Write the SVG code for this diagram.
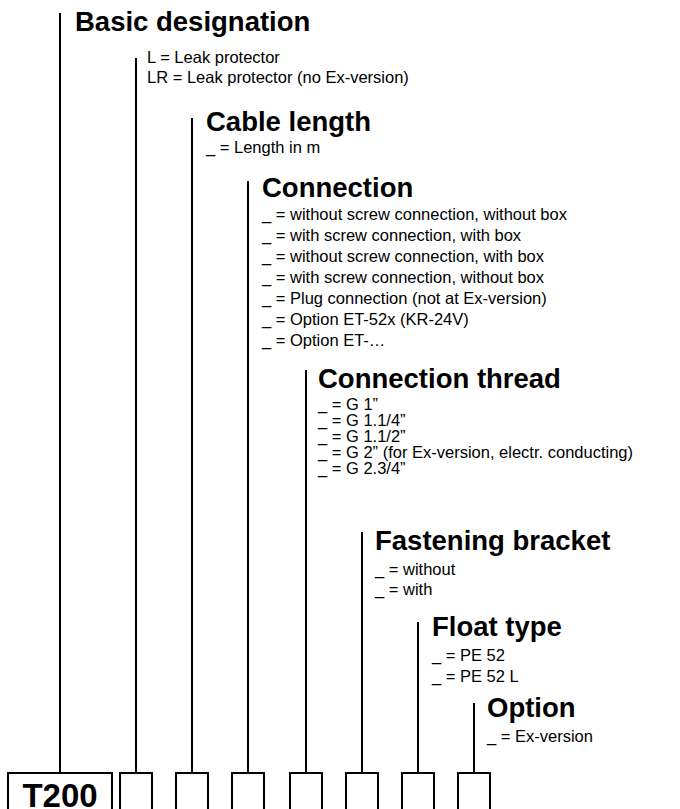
<svg xmlns="http://www.w3.org/2000/svg" width="680" height="809" viewBox="0 0 680 809">
<style>
.h{font-family:"Liberation Sans",Arial,sans-serif;font-weight:bold;font-size:27.5px;fill:#000}
.t{font-family:"Liberation Sans",Arial,sans-serif;font-size:16.5px;fill:#000}
.big{font-family:"Liberation Sans",Arial,sans-serif;font-weight:bold;font-size:33px;fill:#000}
.ln{stroke:#000;stroke-width:2;fill:none}
.bx{stroke:#000;stroke-width:2;fill:#fff}
</style>
<rect width="680" height="809" fill="#fff"/>
<g id="connectors">
<line class="ln" x1="60" y1="13" x2="60" y2="773"/>
<line class="ln" x1="136" y1="58" x2="136" y2="773"/>
<line class="ln" x1="192" y1="118" x2="192" y2="773"/>
<line class="ln" x1="248" y1="181" x2="248" y2="773"/>
<line class="ln" x1="306" y1="370" x2="306" y2="773"/>
<line class="ln" x1="362" y1="532" x2="362" y2="773"/>
<line class="ln" x1="418" y1="622" x2="418" y2="773"/>
<line class="ln" x1="474" y1="703" x2="474" y2="773"/>
</g>
<g id="basic">
<text class="h" x="75" y="31">Basic designation</text>
<rect class="bx" x="8" y="773" width="104" height="50"/>
<text class="big" x="60" y="807" text-anchor="middle">T200</text>
</g>
<g id="type">
<text class="t" x="147" y="63">L = Leak protector</text>
<text class="t" x="147" y="83">LR = Leak protector (no Ex-version)</text>
<rect class="bx" x="120" y="773" width="32" height="50"/>
</g>
<g id="cable">
<text class="h" x="206" y="131">Cable length</text>
<text class="t" x="206" y="153">_ = Length in m</text>
<rect class="bx" x="176" y="773" width="32" height="50"/>
</g>
<g id="connection">
<text class="h" x="262" y="197">Connection</text>
<text class="t" x="262" y="220">_ = without screw connection, without box</text>
<text class="t" x="262" y="241">_ = with screw connection, with box</text>
<text class="t" x="262" y="262">_ = without screw connection, with box</text>
<text class="t" x="262" y="283">_ = with screw connection, without box</text>
<text class="t" x="262" y="304">_ = Plug connection (not at Ex-version)</text>
<text class="t" x="262" y="325">_ = Option ET-52x (KR-24V)</text>
<text class="t" x="262" y="346">_ = Option ET-…</text>
<rect class="bx" x="232" y="773" width="32" height="50"/>
</g>
<g id="thread">
<text class="h" x="318" y="388">Connection thread</text>
<text class="t" x="318" y="410">_ = G 1”</text>
<text class="t" x="318" y="426">_ = G 1.1/4”</text>
<text class="t" x="318" y="442">_ = G 1.1/2”</text>
<text class="t" x="318" y="458">_ = G 2” (for Ex-version, electr. conducting)</text>
<text class="t" x="318" y="474">_ = G 2.3/4”</text>
<rect class="bx" x="290" y="773" width="32" height="50"/>
</g>
<g id="bracket">
<text class="h" x="375" y="550">Fastening bracket</text>
<text class="t" x="375" y="575">_ = without</text>
<text class="t" x="375" y="595">_ = with</text>
<rect class="bx" x="346" y="773" width="32" height="50"/>
</g>
<g id="float">
<text class="h" x="432" y="636">Float type</text>
<text class="t" x="432" y="661">_ = PE 52</text>
<text class="t" x="432" y="682">_ = PE 52 L</text>
<rect class="bx" x="402" y="773" width="32" height="50"/>
</g>
<g id="option">
<text class="h" x="487" y="717">Option</text>
<text class="t" x="487" y="742">_ = Ex-version</text>
<rect class="bx" x="458" y="773" width="32" height="50"/>
</g>
</svg>
